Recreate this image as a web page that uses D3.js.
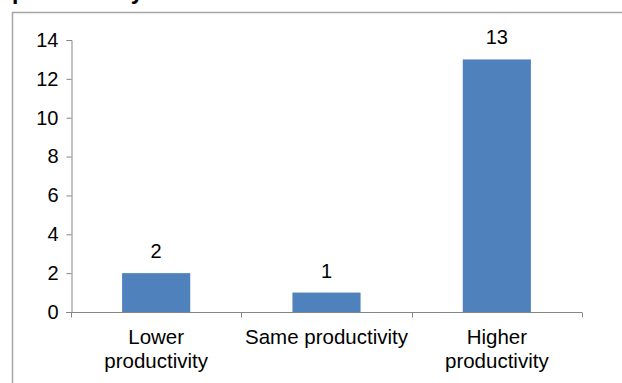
<!DOCTYPE html>
<html>
<head>
<meta charset="utf-8">
<script src="https://cdn.jsdelivr.net/npm/d3@7"></script>
<style>
  html, body { margin: 0; padding: 0; background: #fff; overflow: hidden; }
  svg { display: block; }
</style>
</head>
<body>
<svg id="chart" width="622" height="383"></svg>
<script>
// Survey responses by perceived productivity change
const categories = ["Lower productivity", "Same productivity", "Higher productivity"];
const categoryLines = [["Lower", "productivity"], ["Same productivity"], ["Higher", "productivity"]];
const counts = [2, 1, 13];
const yTicks = [0, 2, 4, 6, 8, 10, 12, 14];
const titleText = "productivity";

const svg = d3.select("#chart");
const font = "Arial, 'Liberation Sans', sans-serif";

// Heading, mostly above the visible area
svg.append("text")
  .attr("x", 12).attr("y", -1.5)
  .attr("font-family", font).attr("font-weight", "bold").attr("font-size", 23)
  .attr("fill", "#000")
  .text(titleText);

// Chart frame
svg.append("path")
  .attr("d", "M12.5,400 L12.5,12.5 L640,12.5")
  .attr("fill", "none").attr("stroke", "#a6a6a6").attr("stroke-width", 1.5);

const x = d3.scaleBand().domain(categories).range([71, 582]).paddingInner(0.6).paddingOuter(0.3);
const y = d3.scaleLinear().domain([0, 14]).range([312, 40]);

// Bars
svg.selectAll("rect.bar").data(counts).join("rect")
  .attr("class", "bar")
  .attr("x", (d, i) => x(categories[i]))
  .attr("y", d => y(d))
  .attr("width", x.bandwidth())
  .attr("height", d => y(0) - y(d))
  .attr("fill", "#4f81bd");

// Value labels
svg.selectAll("text.val").data(counts).join("text")
  .attr("class", "val")
  .attr("x", (d, i) => x(categories[i]) + x.bandwidth() / 2)
  .attr("y", d => y(d) - 15)
  .attr("text-anchor", "middle")
  .attr("font-family", font).attr("font-size", 20).attr("fill", "#000")
  .text(d => d);

// Y axis
const yAxis = svg.append("g").attr("transform", "translate(71.5,0)")
  .call(d3.axisLeft(y).tickValues(yTicks).tickSize(5).tickPadding(8));
yAxis.select(".domain").attr("stroke", "#868686").attr("d", "M-5,40.5H0.5V312.5");
yAxis.selectAll(".tick line").attr("stroke", "#868686");
yAxis.selectAll(".tick text").attr("font-family", font).attr("font-size", 20).attr("fill", "#000");

// X axis with category boundary ticks
const xAxisG = svg.append("g").attr("transform", "translate(0,312.5)");
xAxisG.append("line").attr("x1", 66).attr("x2", 582).attr("y1", 0).attr("y2", 0)
  .attr("stroke", "#868686");
const boundaries = d3.range(categories.length + 1).map(i => 71 + i * (511 / categories.length));
xAxisG.selectAll("line.tk").data(boundaries).join("line")
  .attr("class", "tk")
  .attr("x1", d => Math.round(d) + 0.5).attr("x2", d => Math.round(d) + 0.5)
  .attr("y1", 0).attr("y2", 5)
  .attr("stroke", "#868686");

// Category labels
categories.forEach((c, i) => {
  const cx = x(c) + x.bandwidth() / 2;
  const t = svg.append("text")
    .attr("text-anchor", "middle")
    .attr("font-family", font).attr("font-size", 20.5).attr("fill", "#000");
  categoryLines[i].forEach((line, j) => {
    t.append("tspan").attr("x", cx).attr("y", 344 + j * 24).text(line);
  });
});
</script>
</body>
</html>
